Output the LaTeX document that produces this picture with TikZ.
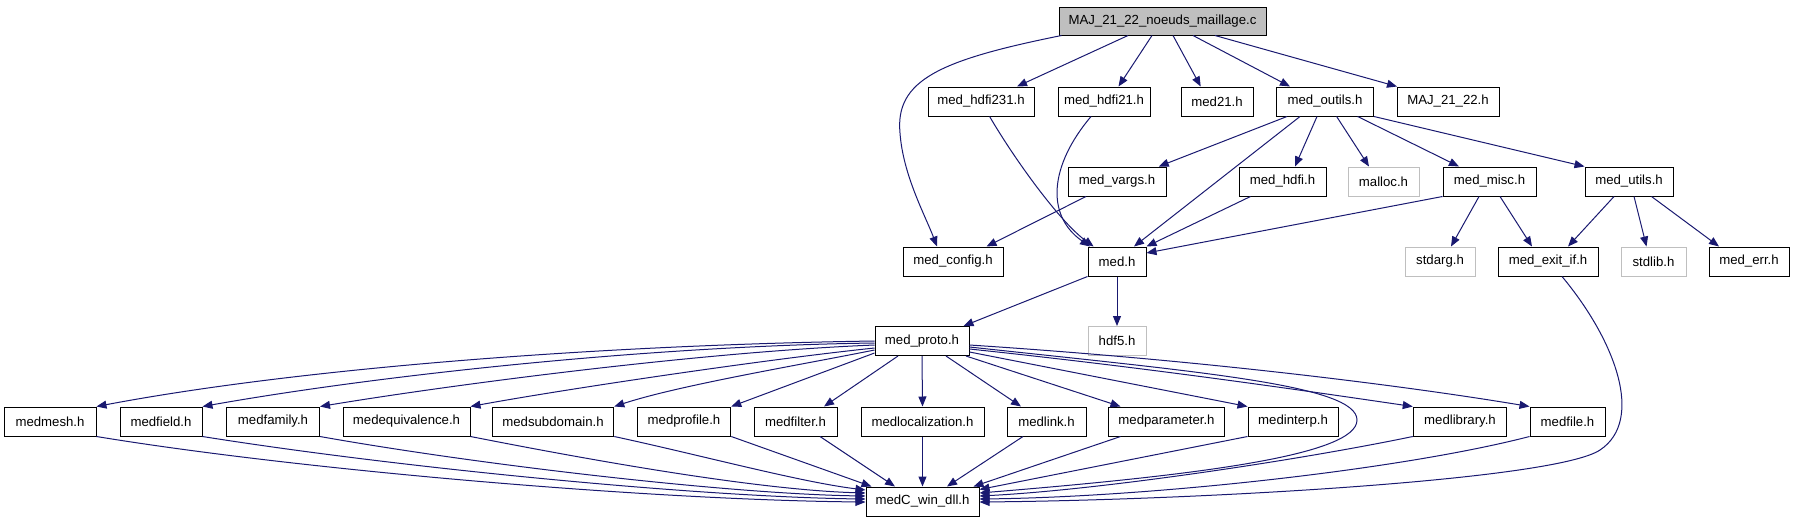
\documentclass[tikz,border=0pt]{standalone}
\usepackage{fontspec}
\setmainfont{Liberation Sans}
\usetikzlibrary{arrows.meta}
\definecolor{edgeblue}{HTML}{191970}
\definecolor{greyb}{HTML}{BFBFBF}
\begin{document}
\begin{tikzpicture}[x=1pt,y=-1pt,
  box/.style={draw=black,line width=1pt,fill=white,minimum height=29pt,inner sep=0pt,font=\fontsize{13.2}{15}\selectfont},
  ghost/.style={box,draw=greyb},
  mainbox/.style={box,fill=greyb},
  edge/.style={draw=edgeblue,line width=1pt,-{Triangle[length=10pt,width=8pt]}}]
\useasboundingbox (0,0) rectangle (1795,523);
% row 0
\node[mainbox,minimum width=207pt,minimum height=28pt] (main) at (1162.5,21) {MAJ\_21\_22\_noeuds\_maillage.c};
% row 1
\node[box,minimum width=106pt] (hdfi231) at (981,101.5) {med\_hdfi231.h};
\node[box,minimum width=92pt] (hdfi21) at (1104,101.5) {med\_hdfi21.h};
\node[box,minimum width=72pt] (med21) at (1217,101.5) {med21.h};
\node[box,minimum width=97pt] (outils) at (1325,101.5) {med\_outils.h};
\node[box,minimum width=102pt] (maj) at (1448,101.5) {MAJ\_21\_22.h};
% row 2
\node[box,minimum width=98pt] (vargs) at (1117,181.5) {med\_vargs.h};
\node[box,minimum width=87pt] (hdfi) at (1282.5,181.5) {med\_hdfi.h};
\node[ghost,minimum width=71pt] (malloc) at (1383.5,181.5) {malloc.h};
\node[box,minimum width=93pt] (misc) at (1489.5,181.5) {med\_misc.h};
\node[box,minimum width=88pt] (utils) at (1629,181.5) {med\_utils.h};
% row 3
\node[box,minimum width=100pt] (config) at (953,261.5) {med\_config.h};
\node[box,minimum width=58pt] (med) at (1117,261.5) {med.h};
\node[ghost,minimum width=70pt] (stdarg) at (1440,261.5) {stdarg.h};
\node[box,minimum width=100pt] (exitif) at (1548,261.5) {med\_exit\_if.h};
\node[ghost,minimum width=65pt] (stdlib) at (1653.5,261.5) {stdlib.h};
\node[box,minimum width=80pt] (err) at (1749,261.5) {med\_err.h};
% row 4
\node[box,minimum width=94pt] (proto) at (922,341) {med\_proto.h};
\node[ghost,minimum width=58pt] (hdf5) at (1117,341) {hdf5.h};
% row 5
\node[box,minimum width=92pt] (mesh) at (50,421.5) {medmesh.h};
\node[box,minimum width=82pt] (field) at (161,421.5) {medfield.h};
\node[box,minimum width=93pt] (family) at (273,421.5) {medfamily.h};
\node[box,minimum width=127pt] (equiv) at (406.5,421.5) {medequivalence.h};
\node[box,minimum width=121.5pt] (subdom) at (553,421.5) {medsubdomain.h};
\node[box,minimum width=93.5pt] (profile) at (684,421.5) {medprofile.h};
\node[box,minimum width=83pt] (filter) at (795.5,421.5) {medfilter.h};
\node[box,minimum width=123pt] (local) at (922.5,421.5) {medlocalization.h};
\node[box,minimum width=79pt] (link) at (1046.5,421.5) {medlink.h};
\node[box,minimum width=116pt] (param) at (1166.5,421.5) {medparameter.h};
\node[box,minimum width=90pt] (interp) at (1293,421.5) {medinterp.h};
\node[box,minimum width=93.5pt] (library) at (1460,421.5) {medlibrary.h};
\node[box,minimum width=75pt] (file) at (1567.5,421.5) {medfile.h};
% row 6
\node[box,minimum width=113pt] (dll) at (922.5,501.5) {medC\_win\_dll.h};

% edges from main
\draw[edge] ([xshift=3pt]main.south west) .. controls (940,60) and (895,80) .. (900,133) .. controls (903,175) and (925,215) .. ([xshift=-16pt]config.north);
\draw[edge] ([xshift=-34.5pt]main.south) -- ([xshift=36pt]hdfi231.north);
\draw[edge] ([xshift=-10.5pt]main.south) -- ([xshift=14.5pt]hdfi21.north);
\draw[edge] ([xshift=10.5pt]main.south) -- ([xshift=-16.3pt]med21.north);
\draw[edge] ([xshift=30.5pt]main.south) -- ([xshift=-35pt]outils.north);
\draw[edge] ([xshift=52.5pt]main.south) -- ([xshift=-51pt]maj.north);
% row 1 edges
\draw[edge] ([xshift=8.6pt]hdfi231.south) .. controls (1015,160) and (1060,222) .. ([xshift=-23.4pt]med.north);
\draw[edge] ([xshift=-13pt]hdfi21.south) .. controls (1050,165) and (1045,215) .. ([xshift=-27pt]med.north);
\draw[edge] ([xshift=-38pt]outils.south) -- ([xshift=41.7pt]vargs.north);
\draw[edge] ([xshift=-25pt]outils.south) -- ([xshift=17pt]med.north);
\draw[edge] ([xshift=-8pt]outils.south) -- ([xshift=12.5pt]hdfi.north);
\draw[edge] ([xshift=11.6pt]outils.south) -- ([xshift=-14.5pt]malloc.north);
\draw[edge] ([xshift=32.6pt]outils.south) -- ([xshift=-30.5pt]misc.north);
\draw[edge] (outils.south east) -- (utils.north west);
% row 2 edges
\draw[edge] ([xshift=-31pt]vargs.south) -- ([xshift=33.5pt]config.north);
\draw[edge] ([xshift=-32pt]hdfi.south) -- (med.north east);
\draw[edge] (misc.south west) -- ([yshift=8.5pt]med.east);
\draw[edge] ([xshift=-10.5pt]misc.south) -- ([xshift=11pt]stdarg.north);
\draw[edge] ([xshift=10.5pt]misc.south) -- ([xshift=-16pt]exitif.north);
\draw[edge] ([xshift=-15pt]utils.south) -- ([xshift=20pt]exitif.north);
\draw[edge] ([xshift=5pt]utils.south) -- ([xshift=-7pt]stdlib.north);
\draw[edge] ([xshift=22.5pt]utils.south) -- ([xshift=-30pt]err.north);
% row 3 edges
\draw[edge] (med.south west) -- ([xshift=41.5pt]proto.north);
\draw[edge] (med.south) -- (hdf5.north);
\draw[edge] ([xshift=14pt]exitif.south) .. controls (1615,340) and (1645,420) .. (1600,450) .. controls (1555,480) and (1200,500) .. ([yshift=-0.5pt]dll.east);
% proto to row 5
\draw[edge] (proto.west) .. controls (600,345) and (300,368) .. (mesh.north east);
\draw[edge] ([yshift=-2pt]proto.west) .. controls (650,346) and (380,375) .. (field.north east);
\draw[edge] ([yshift=-4pt]proto.west) .. controls (700,352) and (450,385) .. (family.north east);
\draw[edge] ([yshift=-7pt]proto.west) .. controls (760,360) and (560,390) .. (equiv.north east);
\draw[edge] ([yshift=-9pt]proto.west) .. controls (800,365) and (680,385) .. (subdom.north east);
\draw[edge] ([yshift=-12pt]proto.west) -- (profile.north east);
\draw[edge] ([xshift=-24pt]proto.south) -- ([xshift=28.5pt]filter.north);
\draw[edge] (proto.south) -- (local.north);
\draw[edge] ([xshift=24pt]proto.south) -- ([xshift=-25.5pt]link.north);
\draw[edge] ([xshift=44pt]proto.south) -- ([xshift=-46pt]param.north);
\draw[edge] ([yshift=-11pt]proto.east) -- (interp.north west);
\draw[edge] ([yshift=-8pt]proto.east) .. controls (1150,368) and (1300,390) .. (library.north west);
\draw[edge] ([yshift=-6pt]proto.east) .. controls (1200,372) and (1357,385) .. (1357,420) .. controls (1357,455) and (1200,475) .. ([yshift=8.5pt]dll.east);
\draw[edge] ([yshift=-4pt]proto.east) .. controls (1200,360) and (1400,385) .. (file.north west);
% row 5 to dll
\draw[edge] (mesh.south east) .. controls (300,470) and (650,500) .. ([yshift=-0.5pt]dll.west);
\draw[edge] (field.south east) .. controls (400,468) and (700,497) .. ([yshift=2.5pt]dll.west);
\draw[edge] (family.south east) .. controls (480,465) and (730,494) .. ([yshift=5.5pt]dll.west);
\draw[edge] (equiv.south east) .. controls (600,462) and (760,490) .. ([yshift=8.5pt]dll.west);
\draw[edge] (subdom.south east) .. controls (700,455) and (800,482) .. ([yshift=11.5pt]dll.west);
\draw[edge] (profile.south east) -- ([xshift=6pt]dll.north west);
\draw[edge] ([xshift=24.5pt]filter.south) -- ([xshift=-27.5pt]dll.north);
\draw[edge] (local.south) -- (dll.north);
\draw[edge] ([xshift=-23.5pt]link.south) -- ([xshift=24.5pt]dll.north);
\draw[edge] ([xshift=-46pt]param.south) -- ([xshift=-6pt]dll.north east);
\draw[edge] (interp.south west) -- ([yshift=12pt]dll.east);
\draw[edge] (library.south west) .. controls (1300,460) and (1100,490) .. ([yshift=5.5pt]dll.east);
\draw[edge] (file.south west) .. controls (1400,470) and (1150,497) .. ([yshift=2.5pt]dll.east);
\end{tikzpicture}
\end{document}
